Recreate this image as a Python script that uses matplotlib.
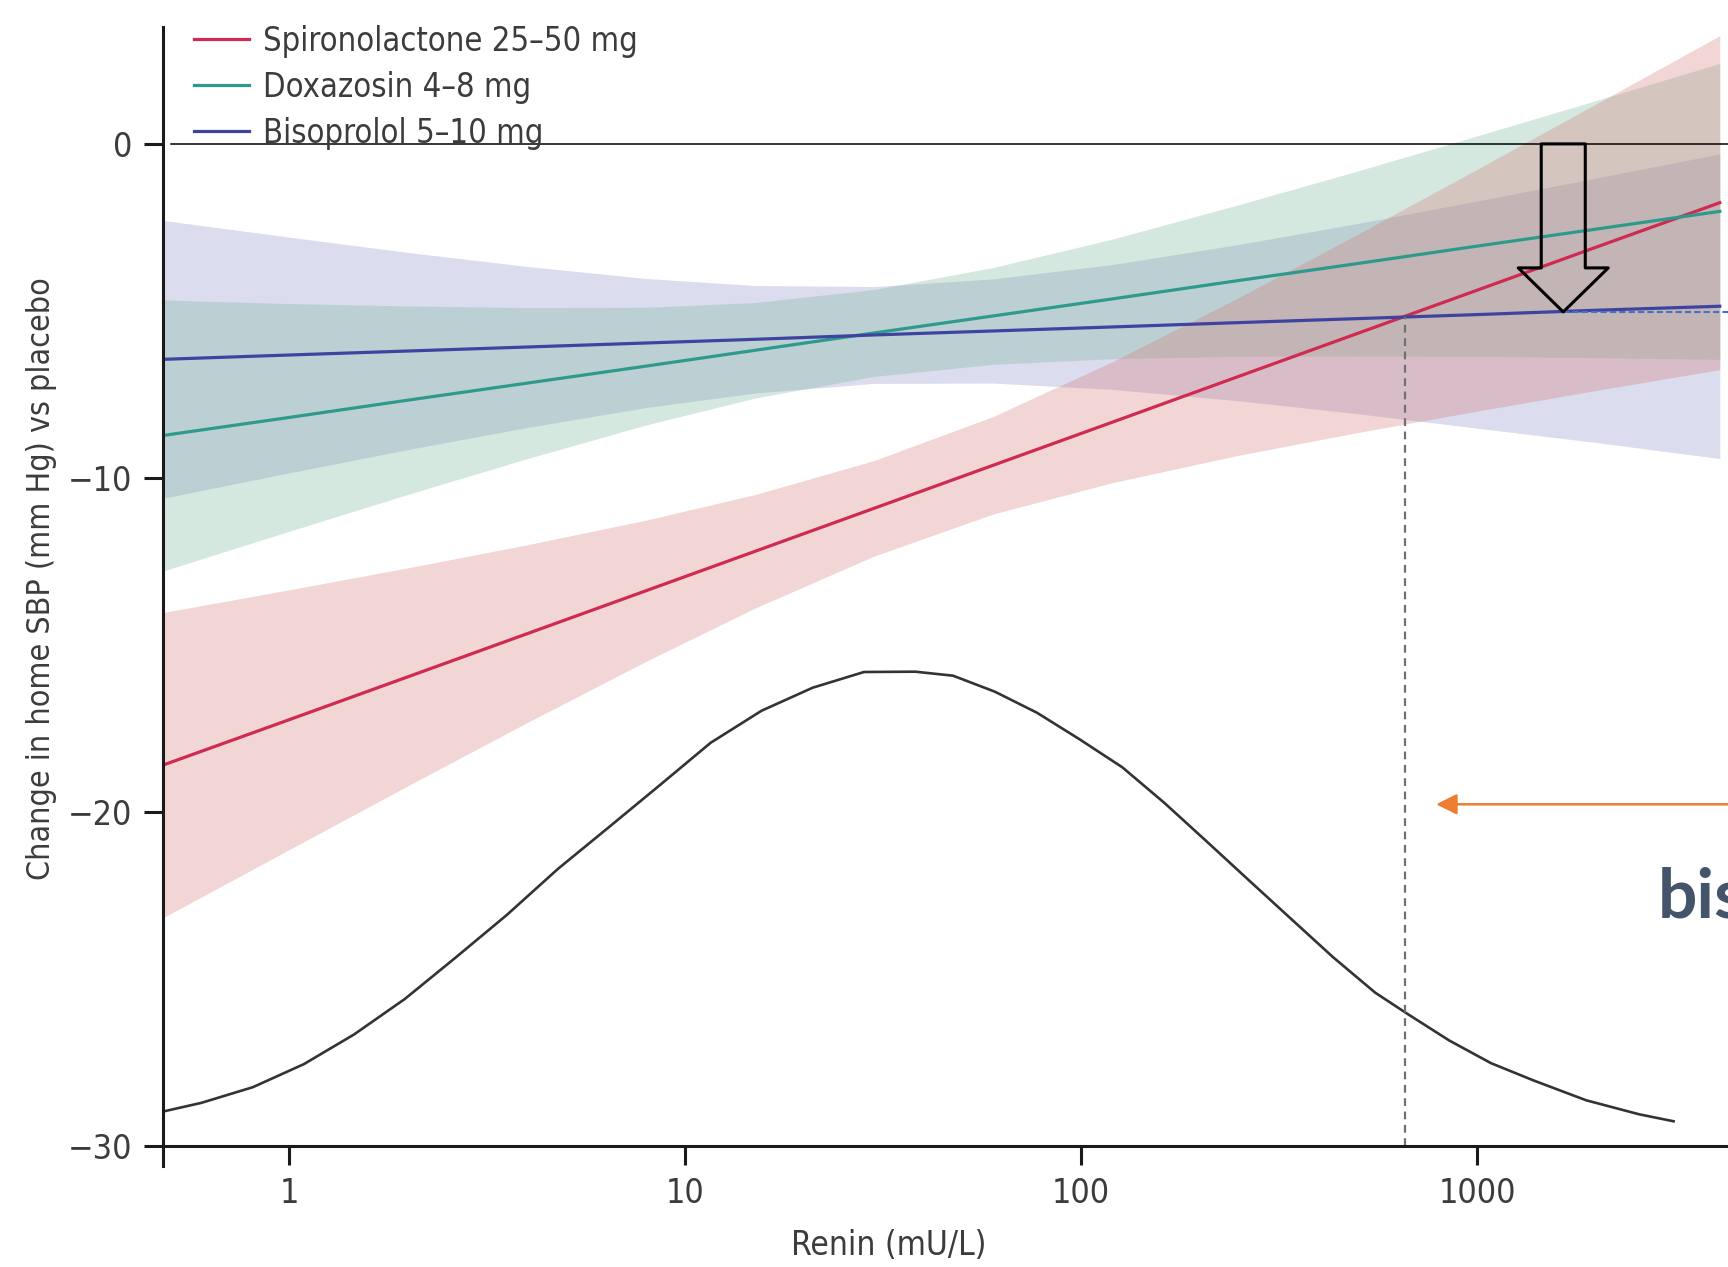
import matplotlib
matplotlib.use("Agg")
import matplotlib.pyplot as plt
from matplotlib.ticker import NullLocator, FixedLocator, FixedFormatter

plt.rcParams['font.family'] = ['DejaVu Sans']
plt.rcParams['font.stretch'] = 'condensed'

# renin grid (mU/L) at which the fitted lines and 95% bands were read
renin = [0.48, 1, 2, 4, 8, 15, 30, 60, 120, 250, 500, 1000, 2000, 4100]

spiro = [-18.6, -17.24, -15.95, -14.66, -13.37, -12.2, -10.91, -9.62, -8.33, -6.96, -5.67, -4.38, -3.09, -1.76]
spiro_hi = [-14.03, -13.35, -12.69, -12.0, -11.26, -10.5, -9.48, -8.16, -6.52, -4.6, -2.7, -0.76, 1.2, 3.24]
spiro_lo = [-23.17, -21.13, -19.21, -17.32, -15.48, -13.9, -12.34, -11.08, -10.14, -9.32, -8.64, -8.0, -7.38, -6.76]

doxa = [-8.73, -8.19, -7.67, -7.16, -6.65, -6.18, -5.66, -5.15, -4.64, -4.09, -3.58, -3.06, -2.55, -2.02]
doxa_hi = [-4.67, -4.78, -4.85, -4.9, -4.89, -4.75, -4.36, -3.7, -2.85, -1.82, -0.81, 0.24, 1.3, 2.41]
doxa_lo = [-12.79, -11.6, -10.49, -9.42, -8.41, -7.61, -6.96, -6.6, -6.43, -6.36, -6.35, -6.36, -6.4, -6.45]

biso = [-6.45, -6.32, -6.2, -6.08, -5.96, -5.85, -5.72, -5.6, -5.48, -5.35, -5.23, -5.11, -4.98, -4.86]
biso_hi = [-2.29, -2.79, -3.25, -3.67, -4.03, -4.24, -4.27, -4.04, -3.61, -3.01, -2.38, -1.71, -1.02, -0.3]
biso_lo = [-10.61, -9.85, -9.15, -8.49, -7.89, -7.46, -7.17, -7.16, -7.35, -7.69, -8.08, -8.51, -8.94, -9.42]

# renin distribution curve (drawn in the same y units)
dens_x = [0.48, 0.6, 0.81, 1.09, 1.46, 1.96, 2.64, 3.55, 4.78, 6.43, 8.65, 11.6, 15.6, 21.0, 28.3,
          38.1, 47.5, 60.6, 77.4, 99, 127, 162, 207, 265, 339, 433, 553, 666, 850, 1084, 1390,
          1884, 2563, 3134]
dens_y = [-28.97, -28.71, -28.24, -27.55, -26.66, -25.6, -24.35, -23.08, -21.7, -20.45, -19.19,
          -17.93, -16.97, -16.28, -15.81, -15.8, -15.92, -16.4, -17.03, -17.82, -18.66, -19.72,
          -20.87, -22.04, -23.2, -24.35, -25.41, -26.04, -26.84, -27.52, -28.04, -28.63, -29.05,
          -29.26]

labels = ["Spironolactone 25\u201350 mg", "Doxazosin 4\u20138 mg", "Bisoprolol 5\u201310 mg"]
xticks = [1, 10, 100, 1000]
xticklabels = ["1", "10", "100", "1000"]
yticks = [0, -10, -20, -30]
yticklabels = ["0", "\u221210", "\u221220", "\u221230"]

# annotation points
cross_renin, cross_sbp = 658, -5.17      # spironolactone = bisoprolol
arrow_renin, arrow_tip = 1650, -5.03
orange_y, orange_tip = -19.77, 788
x_min, x_max = 0.4805, 4300

red, teal, blue = "#CF2A50", "#2E9A8C", "#3F43A0"
txt = "#3c3c3c"

fig = plt.figure(figsize=(17.28, 12.67), dpi=100)
ax = fig.add_axes([0.0943, 0.0955, 0.9057, 0.8832])

# bands
ax.fill_between(renin, biso_lo, biso_hi, color=(138/255, 142/255, 198/255), alpha=0.3, lw=0)
ax.fill_between(renin, doxa_lo, doxa_hi, color=(118/255, 182/255, 152/255), alpha=0.3, lw=0)
ax.fill_between(renin, spiro_lo, spiro_hi, color=(212/255, 118/255, 118/255), alpha=0.3, lw=0)

ax.axhline(0, xmin=0.005, color="black", lw=1.1)

ax.plot(renin, spiro, color=red, lw=2.3, label=labels[0])
ax.plot(renin, doxa, color=teal, lw=2.3, label=labels[1])
ax.plot(renin, biso, color=blue, lw=2.3, label=labels[2])

ax.plot(dens_x, dens_y, color="#333333", lw=1.9)

# crossing marker line
ax.plot([cross_renin, cross_renin], [-30, cross_sbp], color="#707070", lw=1.6,
        linestyle=(0, (3.5, 2.5)))

# blue dashed from the arrow tip
ax.plot([arrow_renin, x_max], [arrow_tip, arrow_tip], color="#4472C4", lw=1.5,
        linestyle=(0, (3, 1.5)), clip_on=False)

# hollow block arrow
ax.annotate("", xy=(arrow_renin, arrow_tip), xytext=(arrow_renin, 0),
            arrowprops=dict(arrowstyle="simple,head_length=31.7,head_width=64.8,tail_width=31.7",
                            mutation_scale=1, fc="none", ec="black", lw=2.2,
                            shrinkA=0, shrinkB=0))

# orange arrow
ax.annotate("", xy=(orange_tip, orange_y), xytext=(x_max, orange_y),
            arrowprops=dict(arrowstyle="-|>,head_length=0.7,head_width=0.35",
                            mutation_scale=18, color="#ED7D31", lw=1.8,
                            shrinkA=0, shrinkB=0), annotation_clip=False)

ax.text(2856, -23.15, "bis", family=["Lato", "DejaVu Sans"], fontweight="bold",
        fontstretch="normal", fontsize=50, color="#44546A", va="baseline", ha="left",
        clip_on=False)

ax.set_xscale("log")
ax.set_xlim(x_min, x_max)
ax.set_ylim(-30, 3.5)
ax.xaxis.set_major_locator(FixedLocator(xticks))
ax.xaxis.set_major_formatter(FixedFormatter(xticklabels))
ax.xaxis.set_minor_locator(NullLocator())
ax.set_yticks(yticks)
ax.set_yticklabels(yticklabels)

for s in ["top", "right"]:
    ax.spines[s].set_visible(False)
for s in ["left", "bottom"]:
    ax.spines[s].set_linewidth(2.2)
    ax.spines[s].set_color("#1a1a1a")
ax.spines["left"].set_bounds(-30.6, 3.5)

ax.tick_params(direction="out", length=14, width=2.2, pad=8, labelsize=24.5,
               labelcolor=txt, color="#1a1a1a")

ax.set_xlabel("Renin (mU/L)", fontsize=24, color=txt)
ax.xaxis.set_label_coords(0.464, -0.074)
ax.set_ylabel("Change in home SBP (mm Hg) vs placebo", fontsize=23, color=txt)
ax.yaxis.set_label_coords(-0.068, 0.507)

leg = ax.legend(loc="upper left", bbox_to_anchor=(0.0198, 1.002), frameon=False,
                fontsize=23.5, borderpad=0, borderaxespad=0, labelspacing=0.4,
                handlelength=1.7, handletextpad=0.43)
for t in leg.get_texts():
    t.set_color(txt)

fig.savefig("out.png", dpi=100)
